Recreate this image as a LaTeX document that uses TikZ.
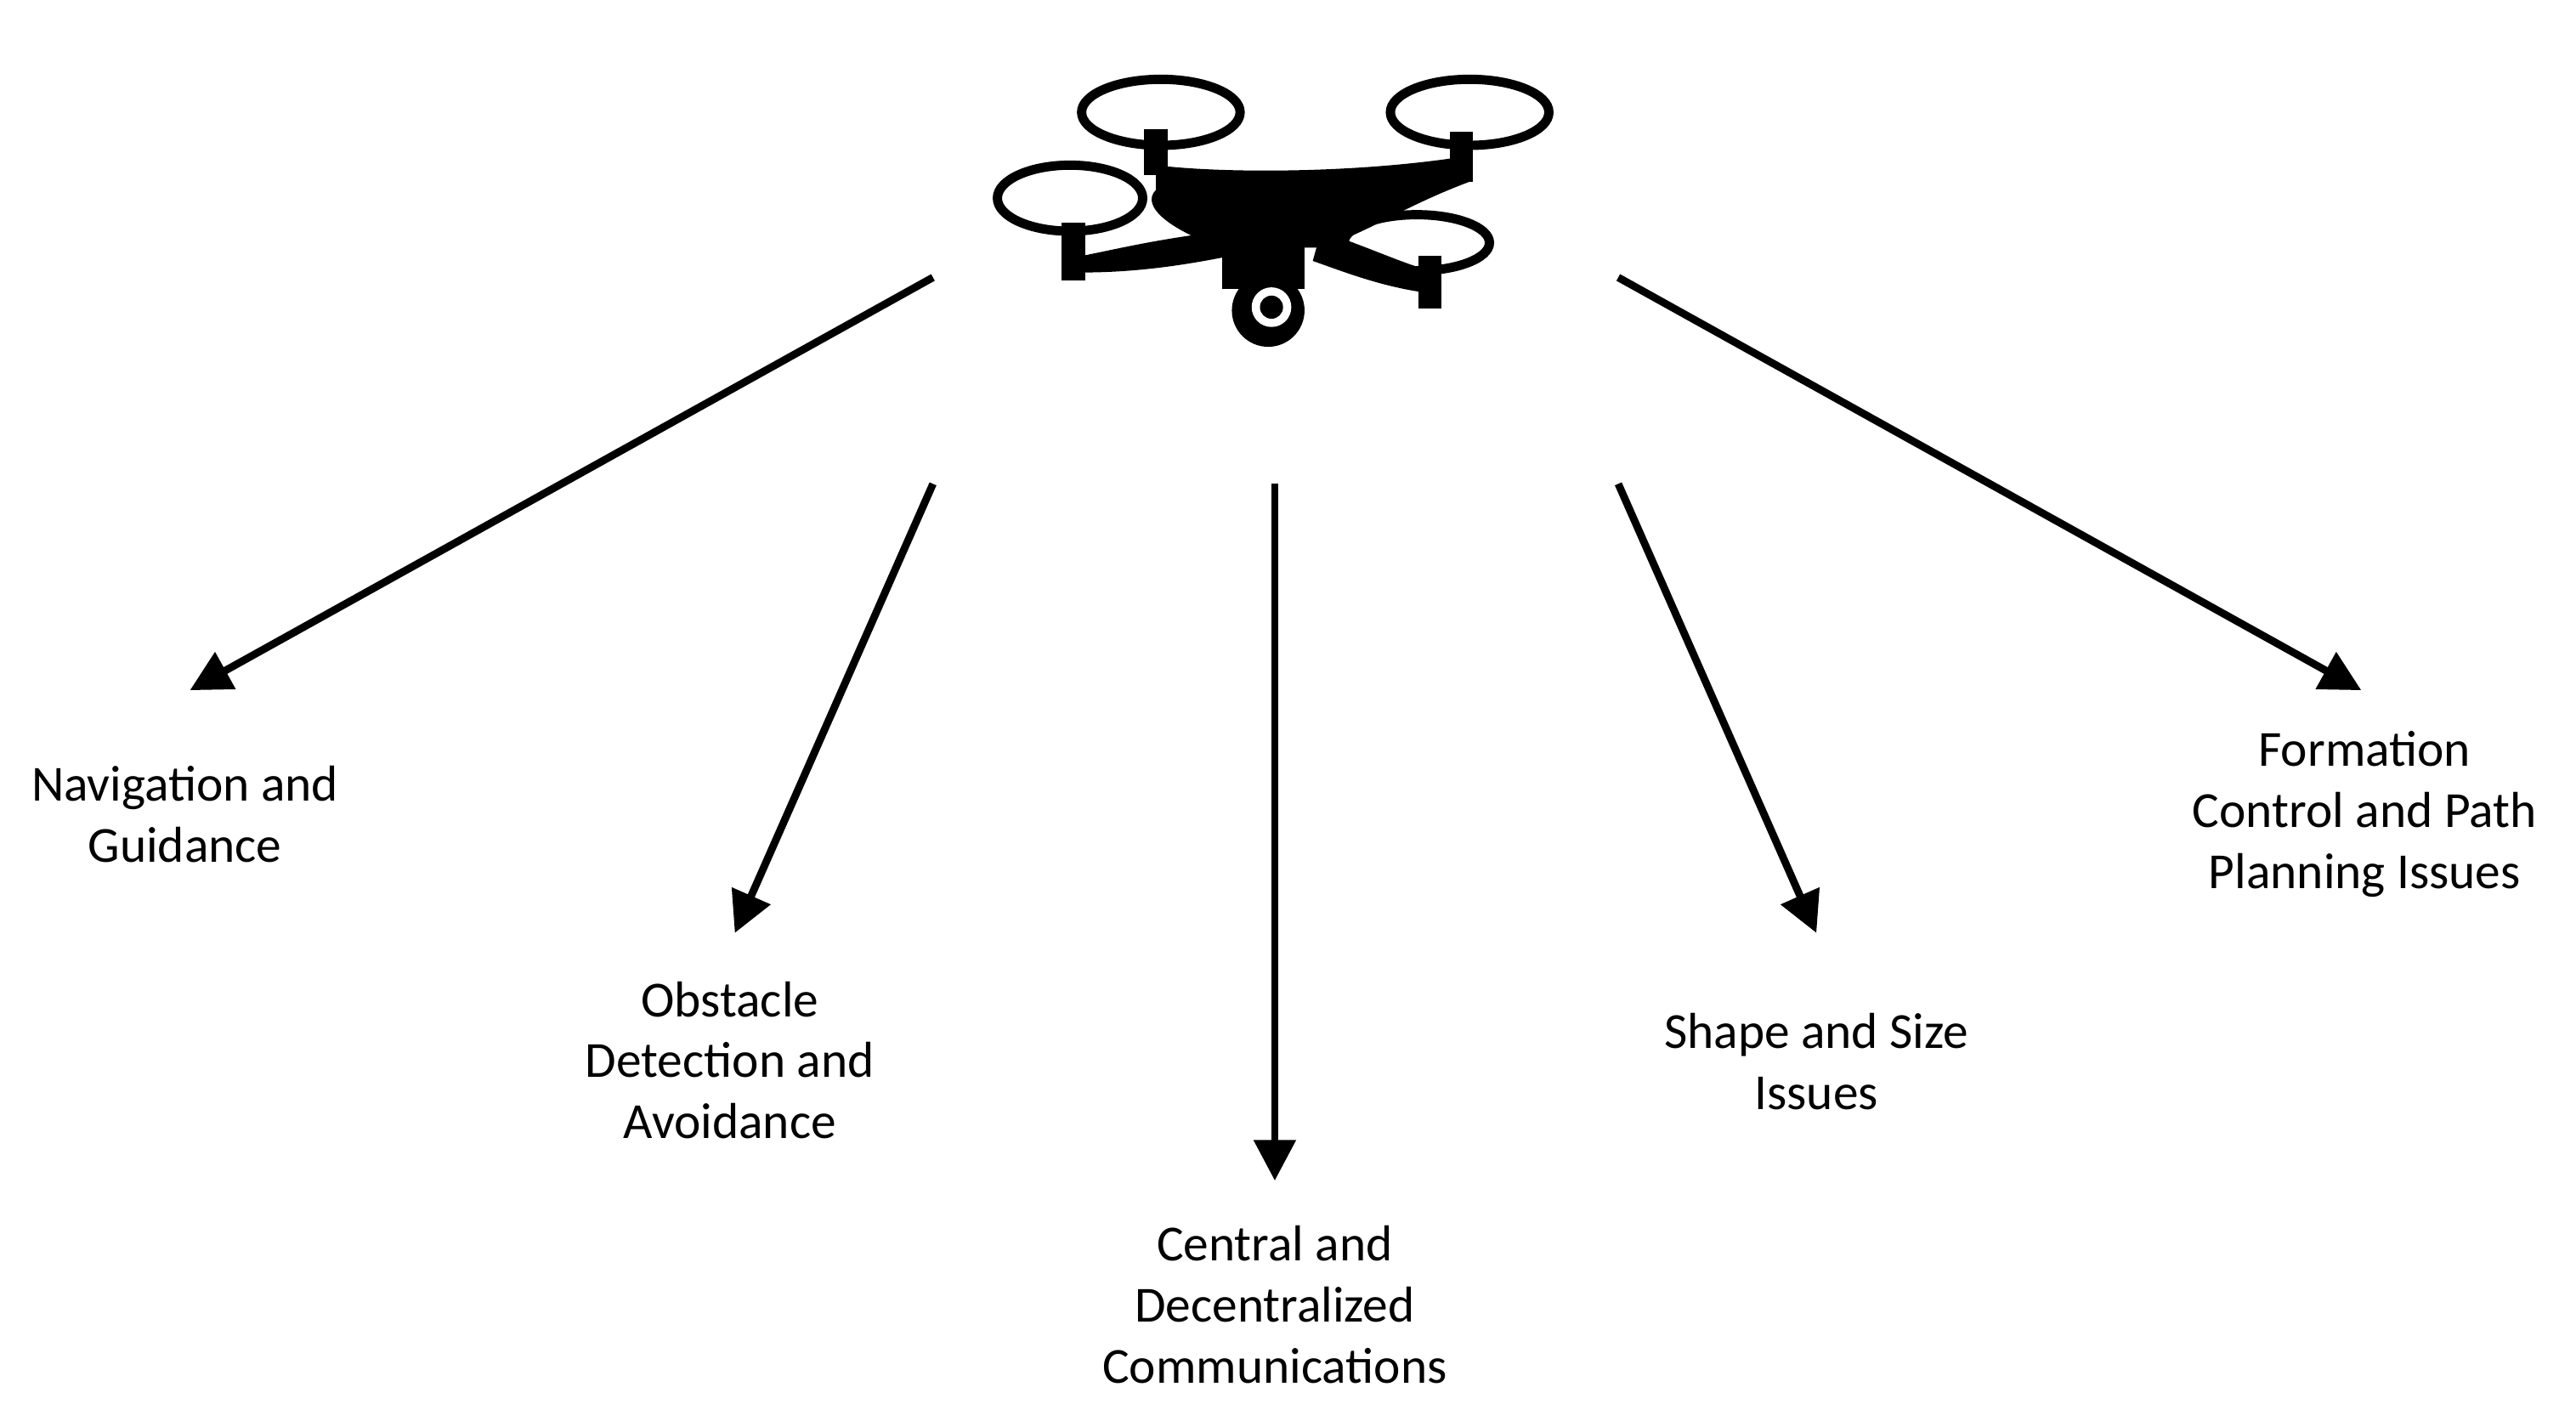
\documentclass[tikz,border=0pt]{standalone}
\usepackage{fontspec}
\setmainfont{Carlito}
\usetikzlibrary{arrows.meta}
\begin{document}
\begin{tikzpicture}[x=0.01cm,y=-0.01cm,
  arr/.style={line width=1.3pt,-{Triangle[length=7pt,width=7pt]}},
  lbl/.style={align=center,font=\fontsize{8.7}{10.5}\selectfont},
  prop/.style={line width=1.6pt}]
\useasboundingbox (0,0) rectangle (1560,850);
% drone
\draw[prop] (703,68) ellipse [x radius=48, y radius=20];
\draw[prop] (890,68) ellipse [x radius=48, y radius=20];
\draw[prop] (648,120) ellipse [x radius=44, y radius=20];
\draw[prop] (858,147) ellipse [x radius=44, y radius=17];
\fill (700,100) .. controls (740,105) and (820,105) .. (885,95)
  -- (890,110) .. controls (850,125) and (830,140) .. (800,150)
  -- (740,150) .. controls (710,140) and (690,125) .. (700,115) -- cycle;
\fill (740,140) .. controls (700,145) and (680,150) .. (655,155) -- (655,165)
  .. controls (690,165) and (720,160) .. (745,155) -- cycle;
\fill (800,140) .. controls (830,150) and (850,160) .. (870,165) -- (870,178)
  .. controls (840,175) and (815,165) .. (795,158) -- cycle;
\foreach \x/\y/\h in {700/78/28,885/80/30,650/135/35,866/155/32}
  \fill (\x-7,\y) rectangle (\x+7,\y+\h);
\fill (740,148) rectangle (790,175);
\fill (768,188) circle (22);
\fill[white] (770,186) circle (12);
\fill (770,186) circle (7);
\coordinate (s1) at (565,168); \coordinate (e1) at (115,418);
\coordinate (s2) at (565,293); \coordinate (e2) at (445,565);
\coordinate (s3) at (772,293); \coordinate (e3) at (772,715);
\coordinate (s4) at (980,293); \coordinate (e4) at (1100,565);
\coordinate (s5) at (980,168); \coordinate (e5) at (1430,418);
\foreach \i in {1,...,5} \draw[arr] (s\i) -- (e\i);
\node[lbl] (n1) at (112,493) {Navigation and\\Guidance};
\node[lbl] (n2) at (442,642) {Obstacle\\Detection and\\Avoidance};
\node[lbl] (n3) at (772,790) {Central and\\Decentralized\\Communications};
\node[lbl] (n4) at (1100,643) {Shape and Size\\Issues};
\node[lbl] (n5) at (1432,493) {Formation\\Control and Path\\Planning Issues};
\end{tikzpicture}
\end{document}
